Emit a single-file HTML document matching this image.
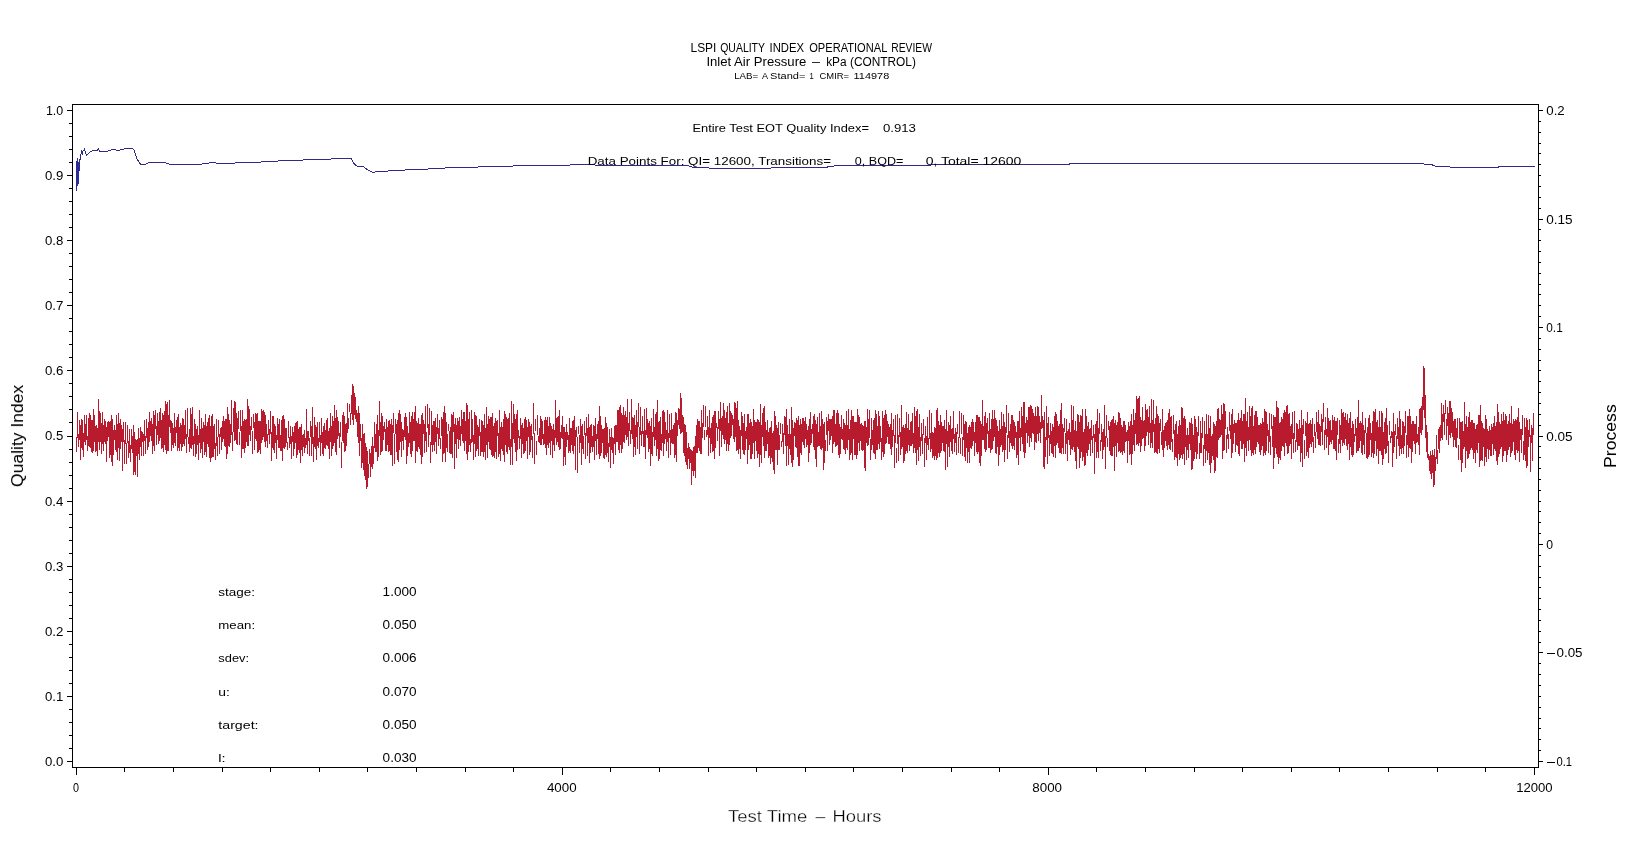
<!DOCTYPE html>
<html><head><meta charset="utf-8"><style>
html,body{margin:0;padding:0;background:#fff;}
body{width:1648px;height:845px;overflow:hidden;}
svg{display:block;}
text{font-family:"Liberation Sans",sans-serif;fill:#000;}
.txt{will-change:transform;}
.thin{stroke:#fff;stroke-width:0.3px;}
</style></head><body>
<svg width="1648" height="845" viewBox="0 0 1648 845">
<rect width="1648" height="845" fill="#fff"/>
<g shape-rendering="crispEdges">
<path d="M72.5 104.5H1538.5V767.5H72.5Z" fill="none" stroke="#000" stroke-width="1"/>
<path d="M67 110.5H72M69 123.5H72M69 136.5H72M69 149.5H72M69 162.5H72M67 175.5H72M69 188.5H72M69 201.5H72M69 214.5H72M69 227.5H72M67 240.5H72M69 253.5H72M69 266.5H72M69 279.5H72M69 292.5H72M67 305.5H72M69 318.5H72M69 331.5H72M69 344.5H72M69 357.5H72M67 370.5H72M69 383.5H72M69 396.5H72M69 409.5H72M69 422.5H72M67 436.5H72M69 449.5H72M69 462.5H72M69 475.5H72M69 488.5H72M67 501.5H72M69 514.5H72M69 527.5H72M69 540.5H72M69 553.5H72M67 566.5H72M69 579.5H72M69 592.5H72M69 605.5H72M69 618.5H72M67 631.5H72M69 644.5H72M69 657.5H72M69 670.5H72M69 683.5H72M67 696.5H72M69 709.5H72M69 722.5H72M69 735.5H72M69 748.5H72M67 761.5H72M1539 110.5H1543M1539 121.5H1541M1539 132.5H1541M1539 143.5H1541M1539 153.5H1541M1539 164.5H1541M1539 175.5H1541M1539 186.5H1541M1539 197.5H1541M1539 208.5H1541M1539 219.5H1543M1539 229.5H1541M1539 240.5H1541M1539 251.5H1541M1539 262.5H1541M1539 273.5H1541M1539 284.5H1541M1539 294.5H1541M1539 305.5H1541M1539 316.5H1541M1539 327.5H1543M1539 338.5H1541M1539 349.5H1541M1539 360.5H1541M1539 370.5H1541M1539 381.5H1541M1539 392.5H1541M1539 403.5H1541M1539 414.5H1541M1539 425.5H1541M1539 436.5H1543M1539 446.5H1541M1539 457.5H1541M1539 468.5H1541M1539 479.5H1541M1539 490.5H1541M1539 501.5H1541M1539 511.5H1541M1539 522.5H1541M1539 533.5H1541M1539 544.5H1543M1539 555.5H1541M1539 566.5H1541M1539 577.5H1541M1539 587.5H1541M1539 598.5H1541M1539 609.5H1541M1539 620.5H1541M1539 631.5H1541M1539 642.5H1541M1539 652.5H1543M1539 663.5H1541M1539 674.5H1541M1539 685.5H1541M1539 696.5H1541M1539 707.5H1541M1539 718.5H1541M1539 728.5H1541M1539 739.5H1541M1539 750.5H1541M1539 761.5H1543M76.5 768V775M124.5 768V772M173.5 768V772M222.5 768V772M270.5 768V772M319.5 768V772M367.5 768V772M416.5 768V772M465.5 768V772M513.5 768V772M562.5 768V775M610.5 768V772M659.5 768V772M708.5 768V772M756.5 768V772M805.5 768V772M853.5 768V772M902.5 768V772M951.5 768V772M999.5 768V772M1048.5 768V775M1096.5 768V772M1145.5 768V772M1194.5 768V772M1242.5 768V772M1291.5 768V772M1339.5 768V772M1388.5 768V772M1437.5 768V772M1485.5 768V772M1534.5 768V775M1547 653.5H1555M1547 762.5H1555" stroke="#000" stroke-width="1" fill="none"/>
<path d="M76.5 437.3V451.6M77.5 412.1V437.8M78.5 434.3V446.5M79.5 420.1V439.5M80.5 425.2V459.6M81.5 418.9V448.2M82.5 420.1V450.4M83.5 432.5V457.0M84.5 415.1V441.5M85.5 423.7V445.3M86.5 414.6V439.9M87.5 435.6V451.0M88.5 417.5V445.8M89.5 413.0V446.7M90.5 415.0V448.2M91.5 420.1V451.6M92.5 419.7V452.6M93.5 408.8V451.2M94.5 415.3V442.2M95.5 425.9V452.0M96.5 424.7V451.0M97.5 427.9V455.7M98.5 399.2V442.4M99.5 411.4V449.5M100.5 412.6V441.9M101.5 423.4V454.0M102.5 412.1V443.7M103.5 424.7V451.2M104.5 418.5V442.4M105.5 420.9V443.5M106.5 427.2V461.6M107.5 421.8V440.9M108.5 420.7V437.1M109.5 421.6V457.5M110.5 421.0V454.5M111.5 415.0V462.1M112.5 418.5V465.5M113.5 430.2V455.0M114.5 424.8V440.2M115.5 429.8V449.5M116.5 415.2V452.1M117.5 423.8V460.2M118.5 412.7V448.2M119.5 422.8V461.1M120.5 418.8V449.2M121.5 424.7V442.1M122.5 428.5V470.7M123.5 421.9V442.3M124.5 439.8V463.7M125.5 422.3V444.3M126.5 442.9V464.3M127.5 425.2V442.5M128.5 440.6V458.2M129.5 428.8V452.7M130.5 445.1V461.6M131.5 429.2V448.7M132.5 436.3V453.2M133.5 424.9V475.3M134.5 432.2V472.3M135.5 439.2V475.1M136.5 439.5V455.5M137.5 438.8V476.6M138.5 428.1V454.4M139.5 437.8V459.5M140.5 426.5V446.9M141.5 430.7V455.8M142.5 431.8V441.6M143.5 434.2V455.8M144.5 419.9V440.5M145.5 435.6V454.4M146.5 418.9V438.0M147.5 428.0V449.7M148.5 422.0V447.1M149.5 412.4V442.0M150.5 421.1V435.9M151.5 418.4V441.3M152.5 424.4V454.4M153.5 410.9V446.2M154.5 414.7V451.2M155.5 409.7V428.6M156.5 426.4V444.5M157.5 413.1V435.1M158.5 421.3V444.1M159.5 411.7V440.8M160.5 407.5V438.1M161.5 419.7V448.7M162.5 412.5V448.0M163.5 414.9V451.6M164.5 410.6V445.2M165.5 401.1V450.3M166.5 404.4V453.9M167.5 402.2V450.7M168.5 414.5V450.8M169.5 399.6V426.8M170.5 420.3V433.3M171.5 420.5V451.4M172.5 422.7V445.3M173.5 428.2V447.9M174.5 413.3V442.6M175.5 427.4V445.7M176.5 420.0V433.1M177.5 417.1V451.0M178.5 414.2V448.0M179.5 426.6V450.8M180.5 422.7V443.7M181.5 424.5V450.6M182.5 417.5V446.9M183.5 418.6V443.6M184.5 425.4V446.4M185.5 410.3V438.9M186.5 434.1V453.1M187.5 407.5V437.4M188.5 437.2V443.8M189.5 428.8V451.9M190.5 408.3V448.2M191.5 414.0V448.7M192.5 407.1V444.8M193.5 436.3V456.3M194.5 419.1V443.8M195.5 424.4V457.1M196.5 428.6V453.6M197.5 426.0V445.4M198.5 434.7V459.6M199.5 409.6V442.7M200.5 429.0V452.6M201.5 418.4V448.6M202.5 427.9V458.0M203.5 422.1V441.5M204.5 424.7V454.6M205.5 414.4V452.0M206.5 426.4V456.9M207.5 421.9V444.4M208.5 418.4V446.9M209.5 415.1V457.7M210.5 426.4V462.0M211.5 415.8V457.7M212.5 413.6V457.0M213.5 425.8V456.5M214.5 424.3V448.9M215.5 442.6V460.1M216.5 419.3V445.9M217.5 436.8V456.4M218.5 420.3V436.7M219.5 434.0V453.5M220.5 428.4V436.7M221.5 427.2V449.5M222.5 421.1V441.9M223.5 416.1V439.0M224.5 421.3V445.9M225.5 418.5V446.9M226.5 418.6V459.4M227.5 406.8V453.8M228.5 413.6V445.9M229.5 419.6V447.3M230.5 424.4V442.8M231.5 400.2V435.3M232.5 431.5V451.0M233.5 407.9V431.7M234.5 401.0V441.4M235.5 401.9V440.3M236.5 413.0V443.5M237.5 418.3V445.1M238.5 411.3V428.9M239.5 431.9V445.4M240.5 410.1V430.7M241.5 425.8V457.5M242.5 410.3V448.5M243.5 420.5V448.9M244.5 419.3V452.9M245.5 419.8V447.6M246.5 419.3V442.0M247.5 398.7V446.2M248.5 405.9V445.8M249.5 409.1V434.7M250.5 425.7V441.1M251.5 416.7V430.4M252.5 431.1V454.2M253.5 413.8V427.6M254.5 422.1V449.6M255.5 412.7V439.2M256.5 414.2V441.2M257.5 412.9V453.4M258.5 420.9V452.3M259.5 421.2V450.1M260.5 420.7V453.7M261.5 409.3V443.2M262.5 410.9V440.1M263.5 410.1V436.8M264.5 412.2V441.5M265.5 415.0V446.7M266.5 424.0V441.3M267.5 434.4V447.9M268.5 420.1V434.8M269.5 428.8V443.5M270.5 410.6V433.7M271.5 431.5V460.7M272.5 415.6V448.3M273.5 415.8V449.9M274.5 423.7V452.7M275.5 426.0V443.2M276.5 435.4V458.7M277.5 418.1V440.4M278.5 424.0V448.4M279.5 419.3V447.8M280.5 434.5V451.2M281.5 420.3V451.1M282.5 415.6V460.6M283.5 415.3V447.7M284.5 419.2V449.2M285.5 427.5V446.7M286.5 427.9V443.4M287.5 442.0V450.2M288.5 420.9V438.1M289.5 436.5V448.3M290.5 425.5V443.7M291.5 436.2V458.8M292.5 427.2V441.8M293.5 431.9V455.8M294.5 425.8V449.0M295.5 423.1V443.3M296.5 422.3V457.8M297.5 420.6V455.1M298.5 428.7V450.2M299.5 426.7V453.2M300.5 427.1V462.5M301.5 423.8V450.0M302.5 435.0V455.7M303.5 433.6V446.7M304.5 429.8V453.1M305.5 438.0V448.4M306.5 409.2V445.1M307.5 431.0V454.2M308.5 430.8V440.5M309.5 437.9V456.0M310.5 421.3V437.3M311.5 425.9V456.3M312.5 406.8V444.2M313.5 436.7V461.8M314.5 416.8V446.8M315.5 424.6V449.1M316.5 427.3V460.1M317.5 421.9V446.0M318.5 438.4V448.4M319.5 421.6V442.2M320.5 434.5V456.2M321.5 418.1V443.4M322.5 431.5V453.5M323.5 425.9V455.5M324.5 423.3V447.5M325.5 429.9V449.1M326.5 420.2V445.0M327.5 418.2V445.7M328.5 431.0V448.5M329.5 428.1V459.0M330.5 413.3V441.7M331.5 425.5V455.8M332.5 416.2V449.4M333.5 420.5V446.2M334.5 404.9V442.6M335.5 418.2V452.4M336.5 410.0V455.4M337.5 416.9V438.5M338.5 420.6V436.2M339.5 432.5V447.8M340.5 421.5V437.4M341.5 442.2V468.1M342.5 414.9V441.2M343.5 411.9V442.5M344.5 415.5V451.6M345.5 424.3V451.0M346.5 423.0V445.8M347.5 402.9V432.8M348.5 417.7V428.9M349.5 404.3V412.2M350.5 412.7V424.5M351.5 395.0V413.6M352.5 384.0V420.0M353.5 386.0V425.0M354.5 393.0V415.1M355.5 397.4V418.8M356.5 409.5V421.5M357.5 412.8V437.2M358.5 406.2V443.2M359.5 413.4V455.6M360.5 423.5V441.4M361.5 437.7V467.8M362.5 423.7V463.4M363.5 433.6V470.4M364.5 432.6V476.0M365.5 443.0V480.1M366.5 447.3V489.0M367.5 450.8V487.0M368.5 463.7V478.1M369.5 448.8V464.0M370.5 453.2V476.6M371.5 446.2V467.0M372.5 436.9V468.7M373.5 446.0V464.3M374.5 422.0V448.1M375.5 433.9V452.4M376.5 423.8V452.1M377.5 415.1V461.0M378.5 430.0V457.4M379.5 401.2V436.3M380.5 422.2V455.1M381.5 412.5V452.4M382.5 416.2V451.0M383.5 426.2V440.1M384.5 421.6V431.9M385.5 429.0V450.9M386.5 418.9V450.6M387.5 426.5V445.3M388.5 420.5V451.5M389.5 420.2V451.0M390.5 423.5V454.5M391.5 418.8V455.0M392.5 424.7V465.5M393.5 413.4V433.1M394.5 434.4V464.2M395.5 418.9V434.3M396.5 424.0V452.0M397.5 420.1V459.8M398.5 413.3V461.8M399.5 410.4V450.4M400.5 413.9V442.0M401.5 421.7V456.7M402.5 429.3V441.0M403.5 429.6V449.7M404.5 416.7V436.9M405.5 412.6V439.7M406.5 417.4V464.1M407.5 426.4V456.1M408.5 433.3V447.1M409.5 412.2V442.5M410.5 421.9V454.3M411.5 415.7V457.2M412.5 412.0V450.9M413.5 418.5V440.5M414.5 411.8V440.7M415.5 405.7V462.5M416.5 420.9V451.2M417.5 423.2V452.0M418.5 417.8V446.9M419.5 424.2V448.9M420.5 424.3V455.4M421.5 414.6V463.5M422.5 412.9V456.5M423.5 419.7V434.2M424.5 424.4V453.3M425.5 405.7V441.0M426.5 432.1V451.5M427.5 403.6V428.1M428.5 424.4V446.8M429.5 408.0V435.3M430.5 442.0V462.8M431.5 410.5V444.9M432.5 424.6V452.3M433.5 420.6V444.5M434.5 420.9V450.6M435.5 417.8V441.9M436.5 427.4V454.1M437.5 414.0V433.6M438.5 428.4V445.6M439.5 420.3V439.1M440.5 438.0V449.4M441.5 417.1V436.4M442.5 418.9V461.7M443.5 412.0V454.4M444.5 406.3V452.9M445.5 412.7V462.3M446.5 421.6V447.8M447.5 433.9V452.1M448.5 423.5V431.1M449.5 430.7V453.0M450.5 426.7V453.5M451.5 414.0V453.5M452.5 414.6V457.8M453.5 412.0V431.6M454.5 424.1V469.0M455.5 417.5V444.0M456.5 424.7V457.5M457.5 417.9V439.3M458.5 421.3V448.8M459.5 416.6V439.8M460.5 426.0V446.1M461.5 410.2V433.8M462.5 419.1V440.5M463.5 411.8V443.3M464.5 411.9V450.5M465.5 420.8V441.4M466.5 403.3V453.5M467.5 405.3V459.9M468.5 419.1V452.4M469.5 412.0V444.9M470.5 438.6V452.2M471.5 409.5V442.9M472.5 419.1V442.2M473.5 434.6V460.2M474.5 411.6V444.3M475.5 414.5V456.6M476.5 416.2V450.5M477.5 424.8V449.0M478.5 426.8V456.2M479.5 418.6V435.7M480.5 431.5V455.8M481.5 420.3V451.9M482.5 421.1V451.5M483.5 425.4V456.8M484.5 414.4V451.7M485.5 428.1V459.8M486.5 407.1V445.3M487.5 423.7V458.2M488.5 416.1V442.3M489.5 418.8V449.4M490.5 417.1V450.1M491.5 417.2V454.7M492.5 412.7V457.4M493.5 425.7V455.7M494.5 423.0V457.5M495.5 418.3V452.1M496.5 421.2V459.4M497.5 419.6V436.4M498.5 432.9V456.9M499.5 409.9V453.5M500.5 427.3V460.9M501.5 422.3V448.7M502.5 427.1V451.0M503.5 419.2V454.6M504.5 410.6V462.4M505.5 414.2V445.3M506.5 417.4V451.5M507.5 418.8V454.2M508.5 417.6V446.7M509.5 413.3V449.8M510.5 439.2V464.5M511.5 401.4V446.5M512.5 423.0V465.0M513.5 403.7V438.7M514.5 413.7V443.4M515.5 418.5V451.9M516.5 414.4V461.1M517.5 409.5V450.4M518.5 429.7V437.7M519.5 435.8V449.4M520.5 418.0V438.9M521.5 424.5V458.2M522.5 422.8V443.9M523.5 427.7V454.0M524.5 419.0V453.4M525.5 417.3V450.7M526.5 419.7V441.0M527.5 426.8V458.5M528.5 418.6V436.6M529.5 421.5V454.5M530.5 426.2V451.9M531.5 424.4V440.4M532.5 435.9V457.5M533.5 403.1V433.6M534.5 433.4V463.5M535.5 419.2V431.1M536.5 441.4V455.0M537.5 414.8V435.2M538.5 435.5V441.6M539.5 428.2V442.8M540.5 416.3V445.4M541.5 418.9V445.2M542.5 420.5V439.2M543.5 433.5V445.3M544.5 420.2V444.0M545.5 417.3V447.5M546.5 420.2V455.1M547.5 417.1V444.9M548.5 425.9V447.8M549.5 416.8V442.6M550.5 423.2V455.3M551.5 426.4V440.6M552.5 429.1V458.0M553.5 423.7V445.3M554.5 429.6V450.6M555.5 399.7V437.7M556.5 418.4V445.4M557.5 417.2V442.2M558.5 415.8V447.3M559.5 410.0V449.5M560.5 432.3V449.1M561.5 424.9V437.6M562.5 416.4V439.3M563.5 426.9V466.1M564.5 426.8V456.6M565.5 432.0V465.1M566.5 423.7V446.6M567.5 431.8V440.2M568.5 435.2V453.2M569.5 417.8V450.7M570.5 427.6V452.5M571.5 428.2V445.1M572.5 420.5V451.1M573.5 419.5V453.5M574.5 415.6V446.0M575.5 429.8V469.5M576.5 427.2V437.0M577.5 437.4V472.9M578.5 425.7V434.0M579.5 435.2V453.1M580.5 419.3V443.3M581.5 425.9V464.8M582.5 423.8V448.5M583.5 435.7V454.2M584.5 421.0V434.8M585.5 432.6V459.4M586.5 417.3V436.4M587.5 427.9V456.1M588.5 413.8V442.9M589.5 426.6V463.4M590.5 425.4V452.9M591.5 424.4V447.2M592.5 435.7V452.3M593.5 424.5V446.5M594.5 425.7V460.3M595.5 418.2V440.6M596.5 434.0V455.1M597.5 423.6V438.6M598.5 421.4V454.1M599.5 405.7V459.4M600.5 415.5V455.5M601.5 425.0V452.7M602.5 429.3V442.6M603.5 429.2V458.1M604.5 428.3V458.9M605.5 416.6V454.6M606.5 422.5V457.1M607.5 426.5V453.0M608.5 443.1V461.7M609.5 428.8V447.2M610.5 437.2V468.1M611.5 427.5V450.0M612.5 436.9V453.1M613.5 437.6V464.3M614.5 425.7V443.6M615.5 424.8V455.4M616.5 424.8V441.6M617.5 410.0V442.1M618.5 409.5V449.6M619.5 407.1V452.9M620.5 404.6V445.2M621.5 412.6V452.6M622.5 415.3V448.8M623.5 407.3V442.0M624.5 414.5V442.9M625.5 411.0V435.1M626.5 416.7V440.0M627.5 399.0V437.3M628.5 423.1V446.0M629.5 412.3V431.3M630.5 429.6V444.2M631.5 399.1V434.2M632.5 417.2V438.9M633.5 417.8V457.3M634.5 414.7V446.5M635.5 424.5V455.0M636.5 410.2V436.7M637.5 422.2V448.9M638.5 403.2V427.2M639.5 427.4V454.0M640.5 407.0V434.7M641.5 430.6V446.4M642.5 415.8V433.7M643.5 430.9V447.3M644.5 409.1V446.6M645.5 430.3V458.8M646.5 408.4V435.4M647.5 419.3V437.8M648.5 422.6V452.3M649.5 420.9V448.9M650.5 425.5V466.3M651.5 417.9V453.8M652.5 431.5V455.6M653.5 409.1V436.6M654.5 427.0V446.0M655.5 413.7V440.4M656.5 411.8V456.0M657.5 400.4V448.7M658.5 422.4V461.0M659.5 421.3V459.4M660.5 417.4V449.7M661.5 434.0V450.5M662.5 411.3V442.8M663.5 410.0V455.6M664.5 411.5V444.4M665.5 422.4V438.7M666.5 429.9V450.7M667.5 409.7V442.4M668.5 433.2V457.6M669.5 414.1V437.5M670.5 429.9V455.1M671.5 413.2V442.9M672.5 429.3V443.7M673.5 425.1V443.9M674.5 423.1V458.0M675.5 411.8V454.5M676.5 412.6V461.9M677.5 419.5V436.0M678.5 407.6V425.4M679.5 408.5V428.6M680.5 393.0V434.4M681.5 398.0V432.5M682.5 415.4V431.5M683.5 416.9V452.9M684.5 424.3V456.1M685.5 425.3V462.2M686.5 432.2V464.6M687.5 447.7V469.0M688.5 443.4V458.6M689.5 447.3V468.5M690.5 448.9V462.9M691.5 449.8V485.0M692.5 450.5V471.1M693.5 446.6V475.5M694.5 445.6V471.4M695.5 436.0V478.0M696.5 425.2V452.7M697.5 418.8V452.9M698.5 420.6V448.1M699.5 421.4V451.1M700.5 426.8V454.1M701.5 410.0V454.1M702.5 423.3V438.3M703.5 405.3V426.7M704.5 429.8V439.6M705.5 406.2V427.4M706.5 430.3V437.4M707.5 415.9V435.0M708.5 427.2V455.7M709.5 409.5V437.7M710.5 427.7V453.1M711.5 423.3V444.3M712.5 416.9V452.2M713.5 415.2V451.4M714.5 411.4V459.2M715.5 410.6V447.6M716.5 422.6V428.0M717.5 426.5V441.1M718.5 410.7V429.0M719.5 419.2V456.0M720.5 401.8V430.7M721.5 418.2V447.3M722.5 415.8V435.1M723.5 402.9V438.7M724.5 409.8V444.1M725.5 418.1V439.8M726.5 411.7V451.4M727.5 406.4V443.6M728.5 422.8V450.5M729.5 402.5V445.0M730.5 411.1V438.2M731.5 413.2V435.7M732.5 414.5V425.3M733.5 419.2V439.0M734.5 402.4V442.0M735.5 403.0V436.5M736.5 408.4V450.8M737.5 401.0V450.2M738.5 420.1V454.2M739.5 425.8V449.2M740.5 429.8V459.2M741.5 411.8V436.0M742.5 416.4V449.8M743.5 422.5V453.7M744.5 413.8V455.2M745.5 430.8V450.1M746.5 426.5V438.7M747.5 414.1V464.1M748.5 414.1V450.3M749.5 422.8V445.2M750.5 419.4V458.7M751.5 421.5V458.7M752.5 426.0V453.5M753.5 409.2V443.1M754.5 420.0V458.8M755.5 421.8V441.3M756.5 421.7V450.6M757.5 419.3V458.4M758.5 420.1V454.1M759.5 421.7V467.1M760.5 404.3V454.7M761.5 424.6V463.2M762.5 412.6V437.0M763.5 407.7V445.7M764.5 406.1V458.4M765.5 422.4V450.7M766.5 430.0V450.8M767.5 419.9V444.4M768.5 431.7V457.7M769.5 428.0V456.4M770.5 427.1V463.7M771.5 420.5V458.0M772.5 433.1V461.5M773.5 430.9V469.8M774.5 411.1V474.3M775.5 415.6V449.7M776.5 425.1V450.3M777.5 428.3V464.9M778.5 422.2V449.7M779.5 435.0V450.1M780.5 422.6V433.8M781.5 441.3V447.2M782.5 424.0V441.6M783.5 432.8V454.3M784.5 416.1V435.2M785.5 416.7V445.7M786.5 408.8V466.4M787.5 424.7V445.8M788.5 433.5V464.6M789.5 418.7V449.1M790.5 433.5V454.7M791.5 407.4V463.1M792.5 420.3V466.5M793.5 427.9V459.7M794.5 422.3V435.7M795.5 423.2V446.6M796.5 417.5V447.9M797.5 420.0V456.8M798.5 415.7V466.1M799.5 425.4V466.3M800.5 419.3V453.0M801.5 424.4V455.4M802.5 418.0V441.7M803.5 417.8V445.3M804.5 420.7V447.7M805.5 416.6V438.5M806.5 424.0V446.9M807.5 429.8V444.6M808.5 426.1V462.0M809.5 419.2V452.5M810.5 412.0V445.3M811.5 428.7V442.5M812.5 423.5V433.5M813.5 415.7V447.4M814.5 414.1V450.1M815.5 420.2V458.9M816.5 423.9V466.9M817.5 416.9V447.2M818.5 432.4V446.1M819.5 413.4V445.5M820.5 425.5V448.5M821.5 411.4V450.3M822.5 419.3V447.7M823.5 424.1V470.4M824.5 421.6V462.7M825.5 439.9V450.7M826.5 416.9V435.4M827.5 420.6V450.9M828.5 414.2V431.0M829.5 419.2V445.2M830.5 418.8V439.8M831.5 418.7V435.7M832.5 415.5V453.4M833.5 410.4V443.8M834.5 410.3V442.1M835.5 424.4V447.2M836.5 413.4V446.0M837.5 410.4V444.8M838.5 412.6V454.9M839.5 424.3V457.7M840.5 427.1V453.7M841.5 414.6V438.7M842.5 429.0V440.1M843.5 419.3V448.6M844.5 422.8V450.1M845.5 425.4V453.8M846.5 411.2V448.1M847.5 425.4V449.7M848.5 408.6V439.5M849.5 429.0V459.9M850.5 419.8V454.9M851.5 409.7V453.4M852.5 416.4V460.3M853.5 416.1V439.1M854.5 421.5V454.7M855.5 422.3V454.5M856.5 422.3V458.7M857.5 409.1V454.5M858.5 414.6V442.9M859.5 417.1V451.4M860.5 423.7V440.5M861.5 423.2V449.8M862.5 424.8V450.6M863.5 425.9V449.8M864.5 421.3V467.5M865.5 421.2V470.7M866.5 426.6V443.3M867.5 408.8V446.2M868.5 419.4V444.9M869.5 410.4V438.4M870.5 438.8V460.4M871.5 417.8V449.6M872.5 430.3V445.2M873.5 420.0V453.1M874.5 417.6V453.6M875.5 409.8V458.9M876.5 413.8V450.0M877.5 426.2V449.9M878.5 410.8V444.1M879.5 416.3V448.8M880.5 426.0V441.7M881.5 437.7V459.5M882.5 410.8V452.0M883.5 418.4V456.8M884.5 414.9V454.3M885.5 409.6V443.7M886.5 413.8V443.2M887.5 420.6V437.3M888.5 423.9V443.6M889.5 427.3V444.3M890.5 423.7V448.8M891.5 413.4V455.1M892.5 430.1V447.0M893.5 418.5V436.1M894.5 435.1V467.7M895.5 415.4V443.4M896.5 448.2V463.2M897.5 414.1V444.1M898.5 435.1V460.5M899.5 418.4V437.0M900.5 431.7V454.8M901.5 405.3V449.3M902.5 427.1V447.4M903.5 425.1V462.8M904.5 427.7V460.6M905.5 424.2V453.9M906.5 412.2V451.0M907.5 427.8V453.2M908.5 414.0V444.9M909.5 430.0V450.5M910.5 421.8V446.1M911.5 420.6V446.0M912.5 412.5V443.6M913.5 433.0V452.6M914.5 407.3V447.5M915.5 415.9V452.8M916.5 411.3V465.3M917.5 409.1V450.2M918.5 427.3V460.5M919.5 413.6V447.0M920.5 437.0V455.7M921.5 422.6V441.1M922.5 433.8V454.3M923.5 419.0V435.3M924.5 437.9V466.8M925.5 425.9V442.7M926.5 436.0V459.5M927.5 417.4V445.2M928.5 438.0V450.4M929.5 409.7V439.4M930.5 432.8V451.8M931.5 413.0V449.0M932.5 431.7V457.9M933.5 432.8V455.8M934.5 427.0V459.6M935.5 428.2V456.0M936.5 410.3V459.5M937.5 408.3V458.4M938.5 420.7V452.7M939.5 425.3V456.7M940.5 414.9V452.7M941.5 422.1V450.5M942.5 425.5V443.0M943.5 425.6V451.2M944.5 419.5V451.6M945.5 429.4V470.2M946.5 410.4V443.9M947.5 431.1V467.3M948.5 421.5V447.3M949.5 424.7V456.7M950.5 415.8V442.4M951.5 428.8V450.9M952.5 427.5V454.3M953.5 411.3V439.3M954.5 433.8V452.1M955.5 428.2V442.7M956.5 431.8V454.7M957.5 423.7V434.0M958.5 437.1V453.4M959.5 410.9V438.2M960.5 437.5V454.0M961.5 413.4V434.3M962.5 436.5V456.4M963.5 414.5V439.7M964.5 423.6V456.7M965.5 421.0V460.9M966.5 421.8V448.0M967.5 432.6V462.8M968.5 427.3V451.9M969.5 424.6V462.6M970.5 426.8V448.0M971.5 422.3V449.2M972.5 419.3V445.5M973.5 421.6V441.0M974.5 432.1V456.0M975.5 422.1V442.8M976.5 415.3V452.1M977.5 414.8V454.0M978.5 416.8V452.2M979.5 417.0V463.3M980.5 420.7V466.0M981.5 424.4V456.1M982.5 400.3V440.4M983.5 426.4V440.4M984.5 415.6V449.2M985.5 411.6V452.4M986.5 423.3V449.6M987.5 418.1V434.1M988.5 431.1V448.4M989.5 413.2V447.8M990.5 428.5V452.5M991.5 419.0V449.7M992.5 409.7V449.1M993.5 418.8V440.8M994.5 409.6V437.4M995.5 418.1V453.4M996.5 420.0V454.2M997.5 425.6V446.7M998.5 430.9V466.0M999.5 419.6V454.6M1000.5 429.0V446.8M1001.5 411.8V444.5M1002.5 426.3V451.7M1003.5 413.9V450.2M1004.5 422.1V461.7M1005.5 427.4V450.0M1006.5 404.8V433.4M1007.5 434.7V459.0M1008.5 413.4V437.5M1009.5 430.7V452.0M1010.5 424.4V442.7M1011.5 414.7V445.6M1012.5 414.8V449.0M1013.5 419.7V445.9M1014.5 422.3V449.8M1015.5 426.3V437.8M1016.5 432.4V458.0M1017.5 421.4V455.3M1018.5 421.1V464.5M1019.5 411.2V437.5M1020.5 427.9V451.0M1021.5 407.0V436.8M1022.5 415.8V443.9M1023.5 402.3V452.1M1024.5 402.0V457.7M1025.5 422.7V452.5M1026.5 417.1V433.3M1027.5 419.5V442.9M1028.5 406.9V435.9M1029.5 407.4V446.5M1030.5 404.7V437.8M1031.5 405.9V442.3M1032.5 409.1V433.1M1033.5 412.5V434.4M1034.5 416.0V450.1M1035.5 406.9V442.0M1036.5 415.9V443.3M1037.5 405.9V434.1M1038.5 407.4V440.9M1039.5 416.4V433.3M1040.5 421.7V443.3M1041.5 395.4V428.9M1042.5 415.8V428.4M1043.5 420.0V467.0M1044.5 411.6V469.2M1045.5 437.3V457.3M1046.5 406.4V440.0M1047.5 422.5V463.7M1048.5 416.6V437.9M1049.5 435.3V456.4M1050.5 423.2V443.5M1051.5 430.5V453.2M1052.5 423.7V453.6M1053.5 426.9V457.4M1054.5 416.0V446.3M1055.5 412.3V458.2M1056.5 413.5V444.8M1057.5 421.3V442.8M1058.5 425.5V447.9M1059.5 424.2V453.3M1060.5 410.4V453.3M1061.5 403.3V454.1M1062.5 423.5V447.5M1063.5 427.9V454.2M1064.5 417.9V432.2M1065.5 433.0V454.4M1066.5 418.6V443.5M1067.5 430.5V460.6M1068.5 429.3V440.4M1069.5 422.6V444.9M1070.5 431.6V455.2M1071.5 405.4V448.6M1072.5 419.5V450.0M1073.5 405.9V446.8M1074.5 429.7V452.1M1075.5 421.2V460.5M1076.5 430.5V468.9M1077.5 414.3V447.1M1078.5 414.8V448.6M1079.5 422.0V467.6M1080.5 415.0V457.6M1081.5 416.4V452.4M1082.5 409.4V460.9M1083.5 432.3V457.4M1084.5 428.6V465.9M1085.5 408.8V465.0M1086.5 415.9V453.2M1087.5 425.9V455.5M1088.5 421.5V449.9M1089.5 429.0V444.0M1090.5 427.9V455.7M1091.5 419.5V440.1M1092.5 436.2V452.9M1093.5 424.5V437.8M1094.5 434.0V474.2M1095.5 423.8V441.7M1096.5 421.2V457.7M1097.5 409.2V452.2M1098.5 427.5V457.8M1099.5 412.6V433.6M1100.5 440.3V450.8M1101.5 424.1V442.1M1102.5 431.8V458.6M1103.5 428.8V450.0M1104.5 405.0V446.7M1105.5 435.9V469.0M1106.5 414.7V437.5M1107.5 438.2V446.5M1108.5 421.1V429.5M1109.5 425.7V450.7M1110.5 421.6V455.4M1111.5 419.8V456.3M1112.5 419.1V455.5M1113.5 415.8V446.9M1114.5 423.2V470.8M1115.5 419.7V446.0M1116.5 425.3V457.1M1117.5 421.5V442.7M1118.5 412.4V452.1M1119.5 413.1V451.1M1120.5 418.2V452.6M1121.5 425.3V451.5M1122.5 427.1V455.4M1123.5 421.4V451.0M1124.5 421.1V452.5M1125.5 424.9V441.9M1126.5 431.9V441.4M1127.5 429.5V462.6M1128.5 421.6V441.2M1129.5 425.8V455.4M1130.5 421.2V453.7M1131.5 414.1V465.4M1132.5 424.8V453.7M1133.5 409.1V445.1M1134.5 419.6V450.6M1135.5 412.6V433.7M1136.5 395.7V444.6M1137.5 398.8V444.4M1138.5 397.6V445.7M1139.5 395.9V443.4M1140.5 417.3V451.7M1141.5 420.4V446.4M1142.5 407.4V438.6M1143.5 420.7V437.6M1144.5 420.1V451.3M1145.5 404.0V446.2M1146.5 409.8V435.8M1147.5 408.7V431.6M1148.5 416.6V444.8M1149.5 405.8V433.3M1150.5 422.7V448.0M1151.5 399.1V442.7M1152.5 419.6V448.2M1153.5 399.9V431.5M1154.5 423.8V453.4M1155.5 418.0V451.7M1156.5 406.4V453.1M1157.5 414.4V454.3M1158.5 415.9V449.1M1159.5 422.6V453.4M1160.5 419.0V431.2M1161.5 432.4V444.9M1162.5 409.1V449.9M1163.5 429.8V457.4M1164.5 425.7V448.0M1165.5 422.8V440.5M1166.5 422.2V446.3M1167.5 419.7V450.0M1168.5 413.0V445.3M1169.5 409.4V448.7M1170.5 416.8V449.9M1171.5 416.0V442.0M1172.5 438.6V451.6M1173.5 414.9V433.5M1174.5 430.0V459.8M1175.5 423.6V457.1M1176.5 420.9V458.1M1177.5 433.5V465.9M1178.5 425.7V453.5M1179.5 420.2V460.2M1180.5 425.2V457.7M1181.5 407.0V455.2M1182.5 408.1V459.0M1183.5 417.5V453.7M1184.5 416.1V465.4M1185.5 418.6V446.6M1186.5 435.1V459.9M1187.5 428.4V449.7M1188.5 434.6V457.9M1189.5 422.3V444.4M1190.5 423.2V450.0M1191.5 418.0V469.9M1192.5 424.3V469.0M1193.5 435.4V460.8M1194.5 415.8V459.2M1195.5 419.1V452.0M1196.5 426.7V459.1M1197.5 431.9V453.7M1198.5 416.1V436.2M1199.5 443.1V458.5M1200.5 421.1V453.1M1201.5 432.8V452.8M1202.5 417.0V437.8M1203.5 445.0V466.1M1204.5 421.3V448.7M1205.5 433.9V462.7M1206.5 413.7V450.9M1207.5 434.4V459.6M1208.5 415.0V453.2M1209.5 428.0V465.4M1210.5 415.6V473.3M1211.5 435.6V463.4M1212.5 434.4V456.3M1213.5 422.3V460.0M1214.5 423.9V473.0M1215.5 425.8V471.1M1216.5 421.3V456.7M1217.5 408.8V457.8M1218.5 407.7V440.4M1219.5 418.6V438.0M1220.5 419.6V436.6M1221.5 404.6V435.0M1222.5 413.9V458.5M1223.5 403.2V450.8M1224.5 403.5V449.7M1225.5 410.8V429.3M1226.5 434.6V452.6M1227.5 427.4V439.1M1228.5 433.7V449.3M1229.5 411.8V431.0M1230.5 425.4V438.9M1231.5 414.3V457.8M1232.5 409.0V453.4M1233.5 423.5V443.7M1234.5 419.9V433.0M1235.5 422.7V451.6M1236.5 422.8V445.2M1237.5 420.4V445.6M1238.5 413.0V454.3M1239.5 420.0V456.1M1240.5 417.7V440.6M1241.5 409.9V449.0M1242.5 421.2V449.3M1243.5 414.4V443.9M1244.5 413.6V461.6M1245.5 398.2V447.7M1246.5 421.3V456.1M1247.5 412.4V440.5M1248.5 427.0V450.8M1249.5 405.6V440.1M1250.5 416.3V449.9M1251.5 407.9V455.7M1252.5 406.1V453.3M1253.5 425.7V454.9M1254.5 415.3V449.6M1255.5 411.0V454.4M1256.5 411.1V447.0M1257.5 416.8V441.6M1258.5 424.7V444.3M1259.5 425.2V451.7M1260.5 423.0V454.7M1261.5 424.1V449.7M1262.5 417.7V446.0M1263.5 422.1V455.9M1264.5 408.6V453.1M1265.5 410.6V454.5M1266.5 411.9V451.3M1267.5 423.9V436.1M1268.5 429.8V453.3M1269.5 413.1V441.5M1270.5 435.8V455.2M1271.5 414.3V429.1M1272.5 425.7V446.6M1273.5 414.5V468.8M1274.5 417.2V458.4M1275.5 416.6V447.8M1276.5 401.4V454.0M1277.5 406.8V457.2M1278.5 408.4V464.0M1279.5 423.2V457.7M1280.5 422.1V460.3M1281.5 416.9V451.0M1282.5 418.8V445.9M1283.5 412.7V447.1M1284.5 409.6V456.1M1285.5 412.3V443.4M1286.5 406.2V446.0M1287.5 404.5V454.4M1288.5 413.8V452.6M1289.5 413.1V445.9M1290.5 425.9V443.5M1291.5 423.6V459.0M1292.5 411.7V438.7M1293.5 432.9V453.0M1294.5 410.7V438.5M1295.5 440.0V452.2M1296.5 422.8V442.4M1297.5 423.8V449.7M1298.5 429.2V446.2M1299.5 420.1V446.2M1300.5 428.1V462.1M1301.5 409.6V453.2M1302.5 425.0V467.2M1303.5 419.1V434.3M1304.5 439.6V459.4M1305.5 420.7V436.1M1306.5 423.2V456.1M1307.5 412.4V452.0M1308.5 423.9V457.9M1309.5 423.1V447.8M1310.5 420.2V443.7M1311.5 423.6V447.3M1312.5 418.2V441.7M1313.5 436.5V453.1M1314.5 423.9V436.2M1315.5 431.5V447.6M1316.5 412.0V431.9M1317.5 422.0V439.3M1318.5 410.3V445.0M1319.5 423.9V444.9M1320.5 425.8V446.4M1321.5 414.4V431.9M1322.5 419.2V445.1M1323.5 403.0V422.1M1324.5 429.9V449.8M1325.5 417.2V434.6M1326.5 428.7V448.3M1327.5 407.9V437.2M1328.5 418.4V454.7M1329.5 421.4V445.0M1330.5 420.1V442.2M1331.5 430.3V443.9M1332.5 415.3V439.6M1333.5 420.3V448.7M1334.5 416.8V449.3M1335.5 421.2V450.6M1336.5 420.5V459.5M1337.5 418.4V434.9M1338.5 439.3V453.2M1339.5 419.7V444.0M1340.5 425.2V453.2M1341.5 408.5V439.5M1342.5 413.2V445.5M1343.5 412.4V443.3M1344.5 417.2V445.4M1345.5 412.6V438.5M1346.5 419.8V446.0M1347.5 413.9V449.8M1348.5 423.0V443.9M1349.5 417.9V459.6M1350.5 411.6V446.6M1351.5 427.8V455.4M1352.5 421.0V457.2M1353.5 424.2V455.0M1354.5 434.2V442.0M1355.5 418.9V435.9M1356.5 427.7V453.0M1357.5 416.7V451.3M1358.5 400.1V450.8M1359.5 423.1V448.2M1360.5 421.4V440.8M1361.5 423.3V452.9M1362.5 411.9V455.0M1363.5 424.5V445.2M1364.5 429.6V454.2M1365.5 418.2V433.4M1366.5 433.3V458.0M1367.5 427.2V458.7M1368.5 418.1V456.8M1369.5 415.0V454.7M1370.5 422.7V440.4M1371.5 432.9V457.0M1372.5 420.7V453.4M1373.5 410.5V458.1M1374.5 411.7V454.3M1375.5 409.0V440.7M1376.5 422.3V455.6M1377.5 420.0V448.6M1378.5 427.0V464.1M1379.5 410.8V451.2M1380.5 427.0V450.6M1381.5 411.4V455.3M1382.5 413.3V464.6M1383.5 432.2V458.6M1384.5 421.7V448.8M1385.5 417.8V453.5M1386.5 407.7V452.5M1387.5 425.3V445.8M1388.5 440.7V462.9M1389.5 421.3V434.9M1390.5 436.1V443.3M1391.5 431.0V438.4M1392.5 431.6V467.0M1393.5 412.8V452.9M1394.5 430.5V446.5M1395.5 424.4V434.5M1396.5 435.7V458.6M1397.5 417.6V439.0M1398.5 427.3V446.4M1399.5 410.9V455.9M1400.5 418.5V449.0M1401.5 434.8V454.1M1402.5 421.2V448.1M1403.5 421.8V453.8M1404.5 426.1V446.4M1405.5 410.6V433.2M1406.5 435.1V458.4M1407.5 415.6V444.9M1408.5 415.9V456.5M1409.5 408.8V447.7M1410.5 416.4V449.2M1411.5 423.6V462.5M1412.5 421.2V452.3M1413.5 420.5V440.7M1414.5 423.9V444.3M1415.5 424.1V454.4M1416.5 416.1V442.9M1417.5 434.1V442.0M1418.5 427.2V444.5M1419.5 408.6V454.9M1420.5 408.4V432.8M1421.5 405.9V434.6M1422.5 396.8V430.0M1423.5 366.0V410.0M1424.5 368.0V418.0M1425.5 395.0V438.0M1426.5 425.0V452.0M1427.5 432.0V458.0M1428.5 454.0V459.9M1429.5 456.3V471.3M1430.5 451.3V473.9M1431.5 454.5V478.5M1432.5 450.2V473.1M1433.5 454.9V487.0M1434.5 449.1V485.0M1435.5 456.7V471.0M1436.5 435.2V458.6M1437.5 450.2V464.2M1438.5 428.8V449.4M1439.5 426.8V452.9M1440.5 425.3V440.9M1441.5 402.6V437.7M1442.5 414.3V440.0M1443.5 404.7V421.6M1444.5 412.5V434.8M1445.5 400.4V414.3M1446.5 419.2V440.0M1447.5 406.8V426.2M1448.5 413.4V445.1M1449.5 400.7V434.9M1450.5 401.4V438.3M1451.5 407.9V432.8M1452.5 411.8V436.9M1453.5 420.9V446.9M1454.5 419.0V440.1M1455.5 419.4V447.3M1456.5 428.1V447.5M1457.5 417.8V438.1M1458.5 445.1V459.9M1459.5 418.3V439.1M1460.5 422.0V460.2M1461.5 421.9V471.7M1462.5 420.9V462.7M1463.5 430.9V449.3M1464.5 402.2V446.9M1465.5 423.9V467.7M1466.5 416.4V450.7M1467.5 426.6V458.7M1468.5 416.7V458.3M1469.5 411.5V454.0M1470.5 421.6V449.8M1471.5 420.2V447.6M1472.5 420.2V449.5M1473.5 422.6V459.1M1474.5 422.9V452.7M1475.5 428.5V463.2M1476.5 425.2V450.0M1477.5 424.4V453.2M1478.5 415.1V443.1M1479.5 415.1V466.7M1480.5 404.6V460.9M1481.5 421.1V459.8M1482.5 422.8V461.2M1483.5 428.4V447.0M1484.5 429.0V466.3M1485.5 415.3V456.6M1486.5 418.8V461.5M1487.5 428.7V448.9M1488.5 430.9V459.4M1489.5 425.8V449.7M1490.5 430.0V456.3M1491.5 423.9V455.6M1492.5 427.1V444.2M1493.5 423.1V454.7M1494.5 416.0V448.5M1495.5 426.0V450.9M1496.5 421.9V461.3M1497.5 403.8V464.9M1498.5 412.4V456.6M1499.5 421.8V453.6M1500.5 424.0V448.7M1501.5 414.3V446.9M1502.5 421.3V461.8M1503.5 411.8V456.3M1504.5 420.4V451.2M1505.5 413.8V451.4M1506.5 416.0V462.1M1507.5 423.5V454.8M1508.5 421.0V449.7M1509.5 414.3V446.6M1510.5 423.2V456.7M1511.5 405.5V453.0M1512.5 423.5V450.5M1513.5 418.7V441.5M1514.5 421.4V455.2M1515.5 419.3V459.6M1516.5 420.0V450.0M1517.5 416.6V453.1M1518.5 407.6V450.8M1519.5 421.5V462.0M1520.5 428.9V440.4M1521.5 429.2V453.4M1522.5 414.7V435.4M1523.5 440.6V459.7M1524.5 418.2V455.4M1525.5 427.1V461.1M1526.5 418.3V467.9M1527.5 419.7V465.7M1528.5 429.8V447.1M1529.5 418.5V436.9M1530.5 435.3V472.4M1531.5 425.3V442.6M1532.5 427.8V461.0M1533.5 413.3V434.6" stroke="#B81A2E" stroke-width="1" fill="none"/>
<polyline points="76.50,190.53 76.50,163.03 77.50,158.53 77.50,186.03 78.50,162.03 78.50,184.03 79.20,166.03 79.50,160.03 80.50,159.03 80.70,155.03 81.50,152.03 82.50,155.03 83.00,151.03 84.30,149.33 86.50,155.03 88.50,153.53 91.50,151.03 97.50,150.03 98.30,148.53 99.50,151.03 102.00,151.53 106.00,151.53 110.00,150.53 112.00,149.53 116.00,150.03 118.50,150.53 121.00,149.53 126.00,148.73 132.00,148.43 134.00,150.03 135.50,154.03 137.00,159.03 139.00,162.03 140.50,164.33 145.70,164.33 149.60,162.23 164.20,162.53 170.00,164.23 186.50,164.03 202.00,164.03 204.00,163.23 213.70,162.83 220.00,163.43 248.50,162.63 273.40,161.43 283.70,160.43 320.70,159.63 342.60,158.33 351.00,158.33 353.50,163.23 357.10,166.23 363.20,166.63 368.00,170.23 372.90,172.33 377.80,171.53 389.90,170.93 414.90,169.43 433.70,168.83 450.00,167.63 490.70,166.73 528.30,165.53 583.50,164.83 609.70,165.23 668.00,165.23 689.80,166.03 693.40,167.63 718.30,168.23 769.90,168.23 772.30,167.63 827.60,167.03 828.80,166.03 893.20,165.83 939.30,164.83 1069.20,164.33 1070.40,163.33 1423.00,163.33 1424.30,164.33 1431.60,164.63 1435.20,166.13 1449.80,166.43 1450.40,167.43 1498.30,167.43 1499.00,166.33 1534.80,166.33" fill="none" stroke="#2E2A85" stroke-width="1"/>
<rect x="76" y="163" width="3" height="21" fill="#2a2aa0"/>
</g>
<g class="txt">
<text x="690.50" y="52" font-size="12.5" textLength="25.93" lengthAdjust="spacingAndGlyphs" xml:space="preserve">LSPI</text>
<text x="720.20" y="52" font-size="12.5" textLength="44.81" lengthAdjust="spacingAndGlyphs" xml:space="preserve">QUALITY</text>
<text x="769.50" y="52" font-size="12.5" textLength="34.53" lengthAdjust="spacingAndGlyphs" xml:space="preserve">INDEX</text>
<text x="809.20" y="52" font-size="12.5" textLength="78.12" lengthAdjust="spacingAndGlyphs" xml:space="preserve">OPERATIONAL</text>
<text x="891.20" y="52" font-size="12.5" textLength="40.74" lengthAdjust="spacingAndGlyphs" xml:space="preserve">REVIEW</text>
<text x="706.40" y="66" font-size="12.5" textLength="99.93" lengthAdjust="spacingAndGlyphs" xml:space="preserve">Inlet Air Pressure</text>
<text x="812.10" y="66" font-size="12.5" textLength="7.94" lengthAdjust="spacingAndGlyphs" xml:space="preserve">–</text>
<text x="826.20" y="66" font-size="12.5" textLength="89.71" lengthAdjust="spacingAndGlyphs" xml:space="preserve">kPa (CONTROL)</text>
<text x="734.20" y="78.7" font-size="8.8" textLength="24.00" lengthAdjust="spacingAndGlyphs" xml:space="preserve">LAB=</text>
<text x="762.00" y="78.7" font-size="8.8" textLength="6.00" lengthAdjust="spacingAndGlyphs" xml:space="preserve">A</text>
<text x="770.10" y="78.7" font-size="8.8" textLength="35.27" lengthAdjust="spacingAndGlyphs" xml:space="preserve">Stand=</text>
<text x="809.40" y="78.7" font-size="8.8" textLength="4.25" lengthAdjust="spacingAndGlyphs" xml:space="preserve">1</text>
<text x="819.50" y="78.7" font-size="8.8" textLength="29.54" lengthAdjust="spacingAndGlyphs" xml:space="preserve">CMIR=</text>
<text x="853.60" y="78.7" font-size="8.8" textLength="35.63" lengthAdjust="spacingAndGlyphs" xml:space="preserve">114978</text>
<text x="692.40" y="131.8" font-size="11.5" textLength="176.52" lengthAdjust="spacingAndGlyphs" xml:space="preserve">Entire Test EOT Quality Index=</text>
<text x="882.90" y="131.8" font-size="11.5" textLength="33.03" lengthAdjust="spacingAndGlyphs" xml:space="preserve">0.913</text>
<text x="587.70" y="164.7" font-size="11.5" textLength="243.31" lengthAdjust="spacingAndGlyphs" xml:space="preserve">Data Points For: QI= 12600, Transitions=</text>
<text x="854.80" y="164.7" font-size="11.5" textLength="48.52" lengthAdjust="spacingAndGlyphs" xml:space="preserve">0, BQD=</text>
<text x="925.70" y="164.7" font-size="11.5" textLength="95.65" lengthAdjust="spacingAndGlyphs" xml:space="preserve">0, Total= 12600</text>
<text x="45.90" y="115" font-size="12" textLength="17.33" lengthAdjust="spacingAndGlyphs" xml:space="preserve">1.0</text>
<text x="44.90" y="180" font-size="12" textLength="18.32" lengthAdjust="spacingAndGlyphs" xml:space="preserve">0.9</text>
<text x="44.90" y="245" font-size="12" textLength="18.32" lengthAdjust="spacingAndGlyphs" xml:space="preserve">0.8</text>
<text x="44.90" y="310" font-size="12" textLength="18.44" lengthAdjust="spacingAndGlyphs" xml:space="preserve">0.7</text>
<text x="44.90" y="375" font-size="12" textLength="18.44" lengthAdjust="spacingAndGlyphs" xml:space="preserve">0.6</text>
<text x="44.90" y="440" font-size="12" textLength="18.32" lengthAdjust="spacingAndGlyphs" xml:space="preserve">0.5</text>
<text x="44.90" y="506" font-size="12" textLength="18.32" lengthAdjust="spacingAndGlyphs" xml:space="preserve">0.4</text>
<text x="44.90" y="571" font-size="12" textLength="18.32" lengthAdjust="spacingAndGlyphs" xml:space="preserve">0.3</text>
<text x="44.90" y="636" font-size="12" textLength="18.44" lengthAdjust="spacingAndGlyphs" xml:space="preserve">0.2</text>
<text x="44.90" y="701" font-size="12" textLength="18.32" lengthAdjust="spacingAndGlyphs" xml:space="preserve">0.1</text>
<text x="44.90" y="766" font-size="12" textLength="18.32" lengthAdjust="spacingAndGlyphs" xml:space="preserve">0.0</text>
<text x="1546.30" y="115" font-size="12" textLength="18.43" lengthAdjust="spacingAndGlyphs" xml:space="preserve">0.2</text>
<text x="1546.30" y="224" font-size="12" textLength="26.36" lengthAdjust="spacingAndGlyphs" xml:space="preserve">0.15</text>
<text x="1546.30" y="332" font-size="12" textLength="16.41" lengthAdjust="spacingAndGlyphs" xml:space="preserve">0.1</text>
<text x="1546.30" y="441" font-size="12" textLength="26.36" lengthAdjust="spacingAndGlyphs" xml:space="preserve">0.05</text>
<text x="1546.30" y="549" font-size="12" textLength="6.79" lengthAdjust="spacingAndGlyphs" xml:space="preserve">0</text>
<text x="1556.50" y="657" font-size="12" textLength="26.08" lengthAdjust="spacingAndGlyphs" xml:space="preserve">0.05</text>
<text x="1556.50" y="766" font-size="12" textLength="15.58" lengthAdjust="spacingAndGlyphs" xml:space="preserve">0.1</text>
<text x="73.00" y="792" font-size="12" textLength="6.00" lengthAdjust="spacingAndGlyphs" xml:space="preserve">0</text>
<text x="546.90" y="792" font-size="12" textLength="29.70" lengthAdjust="spacingAndGlyphs" xml:space="preserve">4000</text>
<text x="1032.30" y="792" font-size="12" textLength="29.75" lengthAdjust="spacingAndGlyphs" xml:space="preserve">8000</text>
<text x="1516.20" y="792" font-size="12" textLength="36.49" lengthAdjust="spacingAndGlyphs" xml:space="preserve">12000</text>
<text class="thin" x="728.00" y="822.1" font-size="16" textLength="79.36" lengthAdjust="spacingAndGlyphs" xml:space="preserve">Test Time</text>
<text class="thin" x="815.50" y="822.1" font-size="16" textLength="9.80" lengthAdjust="spacingAndGlyphs" xml:space="preserve">–</text>
<text class="thin" x="832.50" y="822.1" font-size="16" textLength="49.08" lengthAdjust="spacingAndGlyphs" xml:space="preserve">Hours</text>
<text x="218.30" y="596" font-size="11" textLength="36.79" lengthAdjust="spacingAndGlyphs" xml:space="preserve">stage:</text>
<text x="382.60" y="596" font-size="12" textLength="33.95" lengthAdjust="spacingAndGlyphs" xml:space="preserve">1.000</text>
<text x="218.30" y="629" font-size="11" textLength="36.79" lengthAdjust="spacingAndGlyphs" xml:space="preserve">mean:</text>
<text x="382.60" y="629" font-size="12" textLength="33.95" lengthAdjust="spacingAndGlyphs" xml:space="preserve">0.050</text>
<text x="218.30" y="662" font-size="11" textLength="30.76" lengthAdjust="spacingAndGlyphs" xml:space="preserve">sdev:</text>
<text x="382.60" y="662" font-size="12" textLength="33.98" lengthAdjust="spacingAndGlyphs" xml:space="preserve">0.006</text>
<text x="218.30" y="695.5" font-size="11" textLength="11.59" lengthAdjust="spacingAndGlyphs" xml:space="preserve">u:</text>
<text x="382.60" y="695.5" font-size="12" textLength="33.95" lengthAdjust="spacingAndGlyphs" xml:space="preserve">0.070</text>
<text x="218.30" y="729" font-size="11" textLength="40.23" lengthAdjust="spacingAndGlyphs" xml:space="preserve">target:</text>
<text x="382.60" y="729" font-size="12" textLength="33.95" lengthAdjust="spacingAndGlyphs" xml:space="preserve">0.050</text>
<text x="218.30" y="762" font-size="11" textLength="7.40" lengthAdjust="spacingAndGlyphs" xml:space="preserve">l:</text>
<text x="382.60" y="762" font-size="12" textLength="33.95" lengthAdjust="spacingAndGlyphs" xml:space="preserve">0.030</text>
<text transform="translate(23.0,487.10) rotate(-90)" x="0" y="0" font-size="16" textLength="102.39" lengthAdjust="spacingAndGlyphs">Quality Index</text>
<text transform="translate(1616.0,468.00) rotate(-90)" x="0" y="0" font-size="17" textLength="63.77" lengthAdjust="spacingAndGlyphs">Process</text>
</g>
</svg>
</body></html>
